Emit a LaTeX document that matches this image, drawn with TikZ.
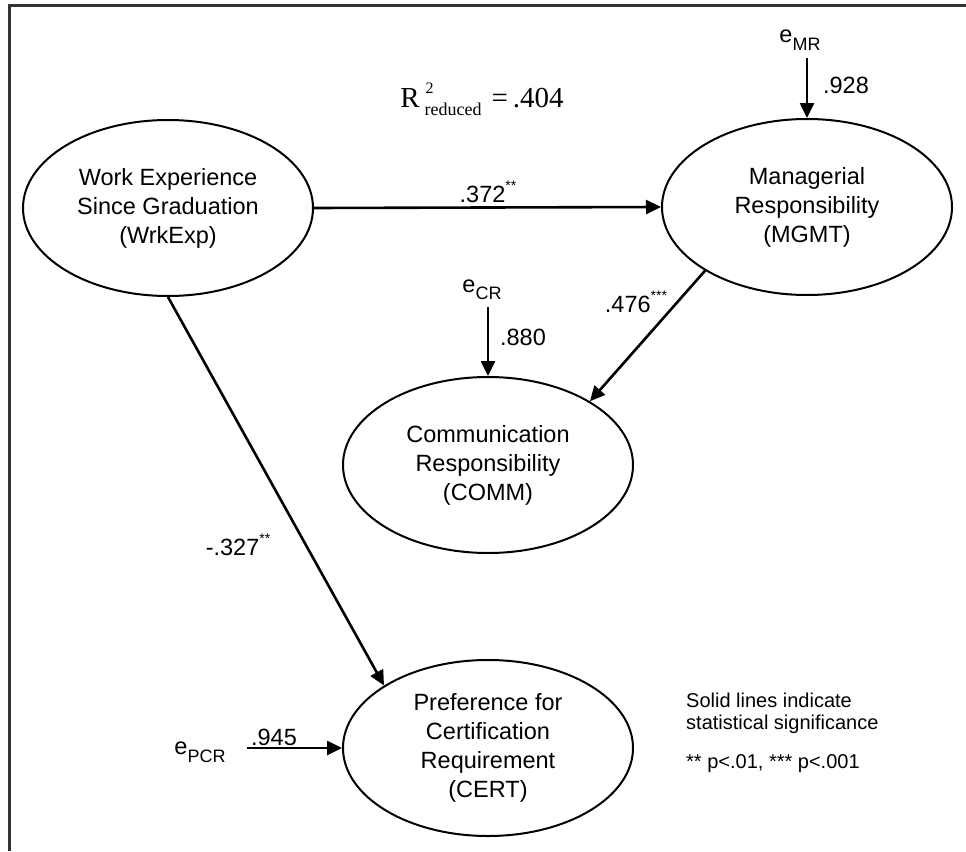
\documentclass[tikz,border=0pt]{standalone}
\usepackage{fontspec}
\setmainfont{Liberation Sans}
\newfontfamily\timesf{Liberation Serif}
\usetikzlibrary{shapes.geometric,arrows.meta}
\newcommand\sps[1]{\raisebox{0.5em}{\fontsize{14}{14}\selectfont #1}}
\newcommand\sbs[1]{\raisebox{-0.32em}{\fontsize{18}{18}\selectfont #1}}
\begin{document}
\begin{tikzpicture}[x=1pt,y=-1pt,
  lat/.style={ellipse,draw,line width=2pt,minimum width=290pt,minimum height=176pt,inner sep=0pt,align=center,font=\fontsize{23.5}{29}\selectfont},
  pathar/.style={line width=2.6pt,-{Triangle[length=15pt,width=14pt]}},
  lbl/.style={font=\fontsize{23.5}{28}\selectfont,inner sep=0pt},
  leg/.style={font=\fontsize{20}{24}\selectfont,inner sep=0pt,anchor=west}]
\useasboundingbox (0,0) rectangle (966,851);
\draw[line width=3pt,color=black!80] (9,851) -- (9,6) -- (966,6);

\node[lat] (w) at (168,208) {Work Experience\\Since Graduation\\(WrkExp)};
\node[lat] (m) at (807,207) {Managerial\\Responsibility\\(MGMT)};
\node[lat] (c) at (488,465) {Communication\\Responsibility\\(COMM)};
\node[lat] (ce) at (488,748) {Preference for\\Certification\\Requirement\\(CERT)};

\node[anchor=base,inner sep=0pt] (r2) at (482,107) {\timesf\fontsize{29}{29}\selectfont R\hspace{5pt}\rlap{\raisebox{13.5pt}{\fontsize{16}{16}\selectfont\hspace{1pt}2}}\raisebox{-8.5pt}{\fontsize{18}{18}\selectfont reduced}\hspace{10pt}=\hspace{5pt}.404};

\node[lbl] (emr) at (800,40) {e\sbs{MR}};
\coordinate (emrs) at (807,58);
\node[lbl] (ecr) at (482,290) {e\sbs{CR}};
\coordinate (ecrs) at (488,307);
\node[lbl] (epcr) at (200,752) {e\sbs{PCR}};
\coordinate (epcrs) at (247,748);

\draw[pathar] (w.east) -- (m.west);
\draw[pathar] (m.212) -- (c.32);
\draw[pathar] (w.south) -- (ce.149);
\draw[pathar] (emrs) -- (m.north);
\draw[pathar] (ecrs) -- (c.north);
\draw[pathar] (epcrs) -- (ce.west);

\node[lbl] (l1) at (488,192) {.372\sps{**}};
\node[lbl] (l2) at (636,302) {.476\sps{***}};
\node[lbl] (l3) at (238,545) {-.327\sps{**}};
\node[lbl] (l4) at (846,85) {.928};
\node[lbl] (l5) at (523,337) {.880};
\node[lbl] (l6) at (274,737) {.945};

\node[leg] (g1) at (686,700) {Solid lines indicate};
\node[leg] (g2) at (686,724) {statistical significance};
\node[leg] (g3) at (686,764) {** p<.01, *** p<.001};
\end{tikzpicture}
\end{document}
